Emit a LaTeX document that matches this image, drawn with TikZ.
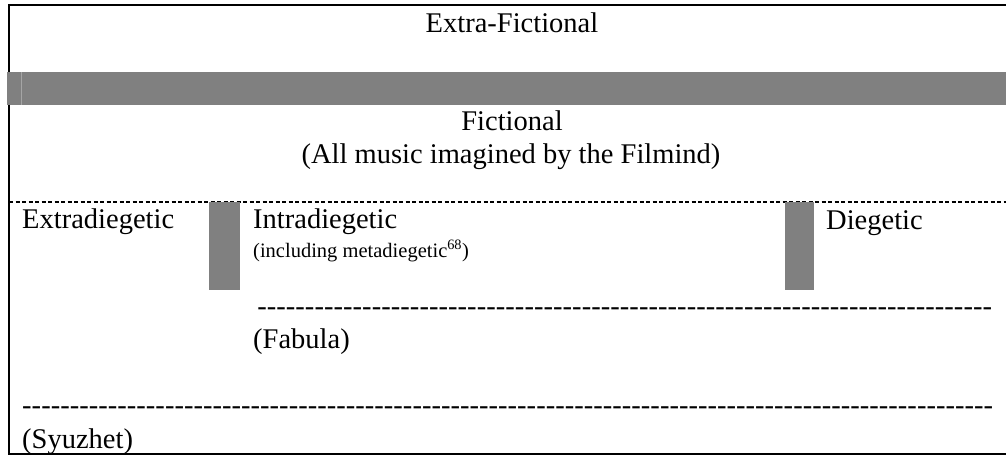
\documentclass[tikz,border=0pt]{standalone}
\usepackage{fontspec}
\setmainfont{Liberation Serif}
\definecolor{bargray}{RGB}{128,128,128}
\definecolor{edgegray}{RGB}{165,165,165}
\begin{document}
\begin{tikzpicture}[x=1pt,y=-1pt,
  big/.style={inner sep=0pt,font=\fontsize{28.5}{33}\selectfont},
  small/.style={inner sep=0pt,font=\fontsize{20.5}{23}\selectfont},
  frameline/.style={line width=1.3pt,black},
  fineDash/.style={line width=1.4pt,black,dash pattern=on 4pt off 2.5pt},
  grayblock/.style={fill=bargray,draw=none}]
\useasboundingbox (0,0) rectangle (1006,455);
% frame
\coordinate (tl) at (9,5);
\coordinate (tr) at (1006,5);
\coordinate (bl) at (9,454);
\coordinate (br) at (1006,454);
\coordinate (lbarA) at (9,72);
\coordinate (lbarB) at (9,105);
\draw[frameline] (tr) -- (tl) -- (lbarA);
\draw[frameline] (lbarB) -- (bl) -- (br);
% gray bar
\fill[grayblock] (7,72) rectangle (1006,105);
\draw[edgegray,line width=0.8pt] (21,72) -- (21,105);
% dashed separator
\coordinate (dashL) at (9,202);
\coordinate (dashR) at (1006,202);
\draw[fineDash] (dashL) -- (dashR);
% vertical gray blocks
\fill[grayblock] (209,202) rectangle (240,290);
\fill[grayblock] (785,202) rectangle (814,290);
% texts
\node[big,anchor=base] (extra) at (512,32) {Extra-Fictional};
\node[big,anchor=base] (fict) at (512,130) {Fictional};
\node[big,anchor=base] (allmusic) at (511,163) {(All music imagined by the Filmind)};
\node[big,anchor=base west] (extradieg) at (22,228) {Extradiegetic};
\node[big,anchor=base west] (intradieg) at (253,228) {Intradiegetic};
\node[small,anchor=base west] (incl) at (253,257) {(including metadiegetic\textsuperscript{68})};
\node[big,anchor=base west] (dieg) at (826,229) {Diegetic};
\node[big,anchor=base west] (hyA) at (257,315) {\hbox to 735pt{\xleaders\hbox{-}\hfill}};
\node[big,anchor=base west] (fabula) at (253,348) {(Fabula)};
\node[big,anchor=base west] (hyB) at (22,414) {\hbox to 971pt{\xleaders\hbox{-}\hfill}};
\node[big,anchor=base west] (syuzhet) at (22,448) {(Syuzhet)};
\end{tikzpicture}
\end{document}
